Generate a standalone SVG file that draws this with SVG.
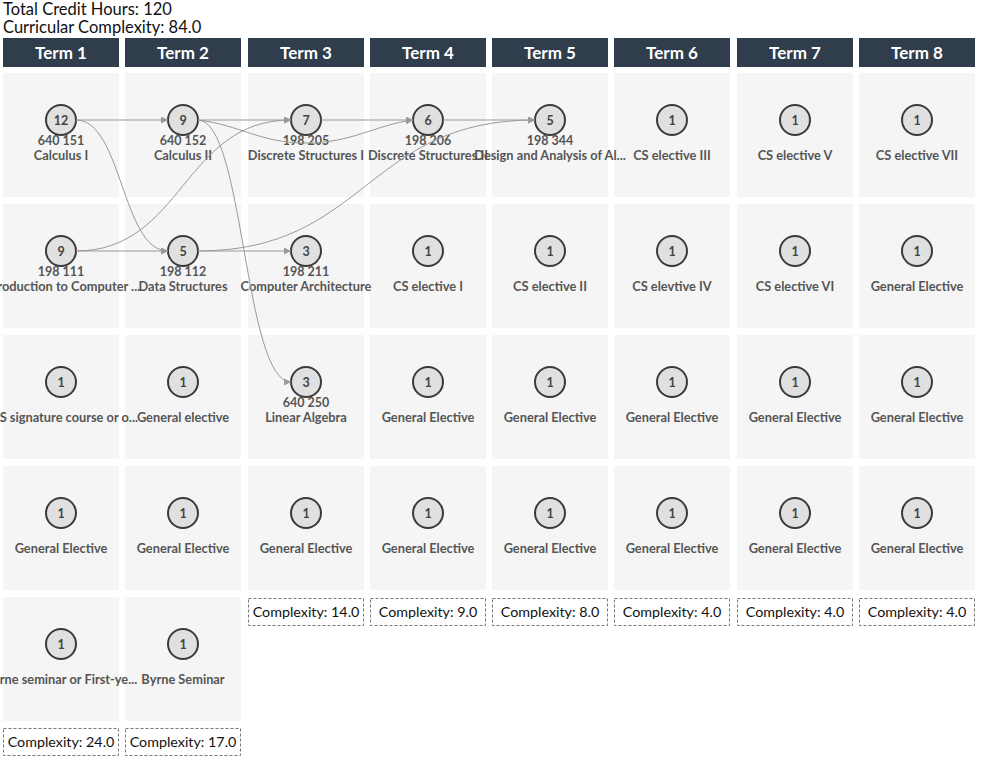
<svg xmlns="http://www.w3.org/2000/svg" width="982" height="762" viewBox="0 0 982 762">
<style>
.top{font-family:Lato,"Liberation Sans",sans-serif;font-size:16.5px;fill:#111}
.hd{fill:#2f3d4c}
.ht{font-family:Lato,"Liberation Sans",sans-serif;font-size:17px;font-weight:bold;fill:#fff;text-anchor:middle}
.cell{fill:#f5f5f5}
.c{fill:#e0e0e0;stroke:#3a3a3a;stroke-width:2}
.n{font-family:Lato,"Liberation Sans",sans-serif;font-size:12.5px;font-weight:bold;fill:#444;text-anchor:middle}
.t{font-family:Lato,"Liberation Sans",sans-serif;font-size:12.8px;font-weight:bold;fill:#555;text-anchor:middle}
.k{font-family:Lato,"Liberation Sans",sans-serif;font-size:12.5px;font-weight:bold;fill:#555;text-anchor:middle}
.e{fill:none;stroke:#999;stroke-width:1}
.cx{fill:#fff;stroke:#777;stroke-width:1;stroke-dasharray:3,2}
.ct{font-family:Lato,"Liberation Sans",sans-serif;font-size:14.3px;fill:#111;text-anchor:middle}
</style>
<defs>
<marker id="ar" viewBox="0 0 10 10" refX="10" refY="5" markerWidth="7" markerHeight="7" markerUnits="userSpaceOnUse" orient="auto">
<path d="M0,0 L10,5 L0,10 z" fill="#999"/>
</marker>
</defs>
<text class="top" x="3" y="15">Total Credit Hours: 120</text>
<text class="top" x="3" y="33">Curricular Complexity: 84.0</text>
<g id="headers">
<rect class="hd" x="3" y="38" width="116" height="29"/><text class="ht" x="61" y="59">Term 1</text>
<rect class="hd" x="125" y="38" width="116" height="29"/><text class="ht" x="183" y="59">Term 2</text>
<rect class="hd" x="248" y="38" width="116" height="29"/><text class="ht" x="306" y="59">Term 3</text>
<rect class="hd" x="370" y="38" width="116" height="29"/><text class="ht" x="428" y="59">Term 4</text>
<rect class="hd" x="492" y="38" width="116" height="29"/><text class="ht" x="550" y="59">Term 5</text>
<rect class="hd" x="614" y="38" width="116" height="29"/><text class="ht" x="672" y="59">Term 6</text>
<rect class="hd" x="737" y="38" width="116" height="29"/><text class="ht" x="795" y="59">Term 7</text>
<rect class="hd" x="859" y="38" width="116" height="29"/><text class="ht" x="917" y="59">Term 8</text>
</g>
<g id="cells">
<rect class="cell" x="3" y="73" width="116" height="124"/><rect class="cell" x="3" y="204" width="116" height="124"/><rect class="cell" x="3" y="335" width="116" height="124"/><rect class="cell" x="3" y="466" width="116" height="124"/><rect class="cell" x="3" y="597" width="116" height="124"/>
<rect class="cell" x="125" y="73" width="116" height="124"/><rect class="cell" x="125" y="204" width="116" height="124"/><rect class="cell" x="125" y="335" width="116" height="124"/><rect class="cell" x="125" y="466" width="116" height="124"/><rect class="cell" x="125" y="597" width="116" height="124"/>
<rect class="cell" x="248" y="73" width="116" height="124"/><rect class="cell" x="248" y="204" width="116" height="124"/><rect class="cell" x="248" y="335" width="116" height="124"/><rect class="cell" x="248" y="466" width="116" height="124"/>
<rect class="cell" x="370" y="73" width="116" height="124"/><rect class="cell" x="370" y="204" width="116" height="124"/><rect class="cell" x="370" y="335" width="116" height="124"/><rect class="cell" x="370" y="466" width="116" height="124"/>
<rect class="cell" x="492" y="73" width="116" height="124"/><rect class="cell" x="492" y="204" width="116" height="124"/><rect class="cell" x="492" y="335" width="116" height="124"/><rect class="cell" x="492" y="466" width="116" height="124"/>
<rect class="cell" x="614" y="73" width="116" height="124"/><rect class="cell" x="614" y="204" width="116" height="124"/><rect class="cell" x="614" y="335" width="116" height="124"/><rect class="cell" x="614" y="466" width="116" height="124"/>
<rect class="cell" x="737" y="73" width="116" height="124"/><rect class="cell" x="737" y="204" width="116" height="124"/><rect class="cell" x="737" y="335" width="116" height="124"/><rect class="cell" x="737" y="466" width="116" height="124"/>
<rect class="cell" x="859" y="73" width="116" height="124"/><rect class="cell" x="859" y="204" width="116" height="124"/><rect class="cell" x="859" y="335" width="116" height="124"/><rect class="cell" x="859" y="466" width="116" height="124"/>
</g>
<g id="n_t1_1"><circle class="c" cx="61" cy="120" r="15"/><text class="n" x="61" y="124.5">12</text><text class="k" x="61" y="145">640 151</text><text class="t" x="61" y="160">Calculus I</text></g>
<g id="n_t1_2"><circle class="c" cx="61" cy="251" r="15"/><text class="n" x="61" y="255.5">9</text><text class="k" x="61" y="276">198 111</text><text class="t" x="61" y="291">Introduction to Computer ...</text></g>
<g id="n_t1_3"><circle class="c" cx="61" cy="382" r="15"/><text class="n" x="61" y="386.5">1</text><text class="t" x="61" y="422">SAS signature course or o...</text></g>
<g id="n_t1_4"><circle class="c" cx="61" cy="513" r="15"/><text class="n" x="61" y="517.5">1</text><text class="t" x="61" y="553">General Elective</text></g>
<g id="n_t1_5"><circle class="c" cx="61" cy="644" r="15"/><text class="n" x="61" y="648.5">1</text><text class="t" x="61" y="684">Byrne seminar or First-ye...</text></g>
<g id="n_t2_1"><circle class="c" cx="183" cy="120" r="15"/><text class="n" x="183" y="124.5">9</text><text class="k" x="183" y="145">640 152</text><text class="t" x="183" y="160">Calculus II</text></g>
<g id="n_t2_2"><circle class="c" cx="183" cy="251" r="15"/><text class="n" x="183" y="255.5">5</text><text class="k" x="183" y="276">198 112</text><text class="t" x="183" y="291">Data Structures</text></g>
<g id="n_t2_3"><circle class="c" cx="183" cy="382" r="15"/><text class="n" x="183" y="386.5">1</text><text class="t" x="183" y="422">General elective</text></g>
<g id="n_t2_4"><circle class="c" cx="183" cy="513" r="15"/><text class="n" x="183" y="517.5">1</text><text class="t" x="183" y="553">General Elective</text></g>
<g id="n_t2_5"><circle class="c" cx="183" cy="644" r="15"/><text class="n" x="183" y="648.5">1</text><text class="t" x="183" y="684">Byrne Seminar</text></g>
<g id="n_t3_1"><circle class="c" cx="306" cy="120" r="15"/><text class="n" x="306" y="124.5">7</text><text class="k" x="306" y="145">198 205</text><text class="t" x="306" y="160">Discrete Structures I</text></g>
<g id="n_t3_2"><circle class="c" cx="306" cy="251" r="15"/><text class="n" x="306" y="255.5">3</text><text class="k" x="306" y="276">198 211</text><text class="t" x="306" y="291">Computer Architecture</text></g>
<g id="n_t3_3"><circle class="c" cx="306" cy="382" r="15"/><text class="n" x="306" y="386.5">3</text><text class="k" x="306" y="407">640 250</text><text class="t" x="306" y="422">Linear Algebra</text></g>
<g id="n_t3_4"><circle class="c" cx="306" cy="513" r="15"/><text class="n" x="306" y="517.5">1</text><text class="t" x="306" y="553">General Elective</text></g>
<g id="n_t4_1"><circle class="c" cx="428" cy="120" r="15"/><text class="n" x="428" y="124.5">6</text><text class="k" x="428" y="145">198 206</text><text class="t" x="428" y="160">Discrete Structures II</text></g>
<g id="n_t4_2"><circle class="c" cx="428" cy="251" r="15"/><text class="n" x="428" y="255.5">1</text><text class="t" x="428" y="291">CS elective I</text></g>
<g id="n_t4_3"><circle class="c" cx="428" cy="382" r="15"/><text class="n" x="428" y="386.5">1</text><text class="t" x="428" y="422">General Elective</text></g>
<g id="n_t4_4"><circle class="c" cx="428" cy="513" r="15"/><text class="n" x="428" y="517.5">1</text><text class="t" x="428" y="553">General Elective</text></g>
<g id="n_t5_1"><circle class="c" cx="550" cy="120" r="15"/><text class="n" x="550" y="124.5">5</text><text class="k" x="550" y="145">198 344</text><text class="t" x="550" y="160">Design and Analysis of Al...</text></g>
<g id="n_t5_2"><circle class="c" cx="550" cy="251" r="15"/><text class="n" x="550" y="255.5">1</text><text class="t" x="550" y="291">CS elective II</text></g>
<g id="n_t5_3"><circle class="c" cx="550" cy="382" r="15"/><text class="n" x="550" y="386.5">1</text><text class="t" x="550" y="422">General Elective</text></g>
<g id="n_t5_4"><circle class="c" cx="550" cy="513" r="15"/><text class="n" x="550" y="517.5">1</text><text class="t" x="550" y="553">General Elective</text></g>
<g id="n_t6_1"><circle class="c" cx="672" cy="120" r="15"/><text class="n" x="672" y="124.5">1</text><text class="t" x="672" y="160">CS elective III</text></g>
<g id="n_t6_2"><circle class="c" cx="672" cy="251" r="15"/><text class="n" x="672" y="255.5">1</text><text class="t" x="672" y="291">CS elevtive IV</text></g>
<g id="n_t6_3"><circle class="c" cx="672" cy="382" r="15"/><text class="n" x="672" y="386.5">1</text><text class="t" x="672" y="422">General Elective</text></g>
<g id="n_t6_4"><circle class="c" cx="672" cy="513" r="15"/><text class="n" x="672" y="517.5">1</text><text class="t" x="672" y="553">General Elective</text></g>
<g id="n_t7_1"><circle class="c" cx="795" cy="120" r="15"/><text class="n" x="795" y="124.5">1</text><text class="t" x="795" y="160">CS elective V</text></g>
<g id="n_t7_2"><circle class="c" cx="795" cy="251" r="15"/><text class="n" x="795" y="255.5">1</text><text class="t" x="795" y="291">CS elective VI</text></g>
<g id="n_t7_3"><circle class="c" cx="795" cy="382" r="15"/><text class="n" x="795" y="386.5">1</text><text class="t" x="795" y="422">General Elective</text></g>
<g id="n_t7_4"><circle class="c" cx="795" cy="513" r="15"/><text class="n" x="795" y="517.5">1</text><text class="t" x="795" y="553">General Elective</text></g>
<g id="n_t8_1"><circle class="c" cx="917" cy="120" r="15"/><text class="n" x="917" y="124.5">1</text><text class="t" x="917" y="160">CS elective VII</text></g>
<g id="n_t8_2"><circle class="c" cx="917" cy="251" r="15"/><text class="n" x="917" y="255.5">1</text><text class="t" x="917" y="291">General Elective</text></g>
<g id="n_t8_3"><circle class="c" cx="917" cy="382" r="15"/><text class="n" x="917" y="386.5">1</text><text class="t" x="917" y="422">General Elective</text></g>
<g id="n_t8_4"><circle class="c" cx="917" cy="513" r="15"/><text class="n" x="917" y="517.5">1</text><text class="t" x="917" y="553">General Elective</text></g>
<g id="connectors">
<path class="e" marker-end="url(#ar)" d="M76,120 L168,120"/>
<path class="e" marker-end="url(#ar)" d="M76,120 C122,120 122,251 168,251"/>
<path class="e" marker-end="url(#ar)" d="M198,120 L291,120"/>
<path class="e" marker-end="url(#ar)" d="M198,120 C240,125 260,143 306,143 C352,143 375,125 413,120"/>
<path class="e" marker-end="url(#ar)" d="M198,120 C244,120 244,382 291,382"/>
<path class="e" marker-end="url(#ar)" d="M76,251 C183,251 183,120 291,120"/>
<path class="e" marker-end="url(#ar)" d="M76,251 L168,251"/>
<path class="e" marker-end="url(#ar)" d="M198,251 L291,251"/>
<path class="e" marker-end="url(#ar)" d="M198,251 C366,251 366,120 535,120"/>
<path class="e" marker-end="url(#ar)" d="M321,120 L413,120"/>
<path class="e" marker-end="url(#ar)" d="M443,120 L535,120"/>
</g>
<g id="complexity">
<rect class="cx" x="3.5" y="728.5" width="115" height="27"/><text class="ct" x="61" y="747">Complexity: 24.0</text>
<rect class="cx" x="125.5" y="728.5" width="115" height="27"/><text class="ct" x="183" y="747">Complexity: 17.0</text>
<rect class="cx" x="248.5" y="598.5" width="115" height="27"/><text class="ct" x="306" y="617">Complexity: 14.0</text>
<rect class="cx" x="370.5" y="598.5" width="115" height="27"/><text class="ct" x="428" y="617">Complexity: 9.0</text>
<rect class="cx" x="492.5" y="598.5" width="115" height="27"/><text class="ct" x="550" y="617">Complexity: 8.0</text>
<rect class="cx" x="614.5" y="598.5" width="115" height="27"/><text class="ct" x="672" y="617">Complexity: 4.0</text>
<rect class="cx" x="737.5" y="598.5" width="115" height="27"/><text class="ct" x="795" y="617">Complexity: 4.0</text>
<rect class="cx" x="859.5" y="598.5" width="115" height="27"/><text class="ct" x="917" y="617">Complexity: 4.0</text>
</g>
</svg>
